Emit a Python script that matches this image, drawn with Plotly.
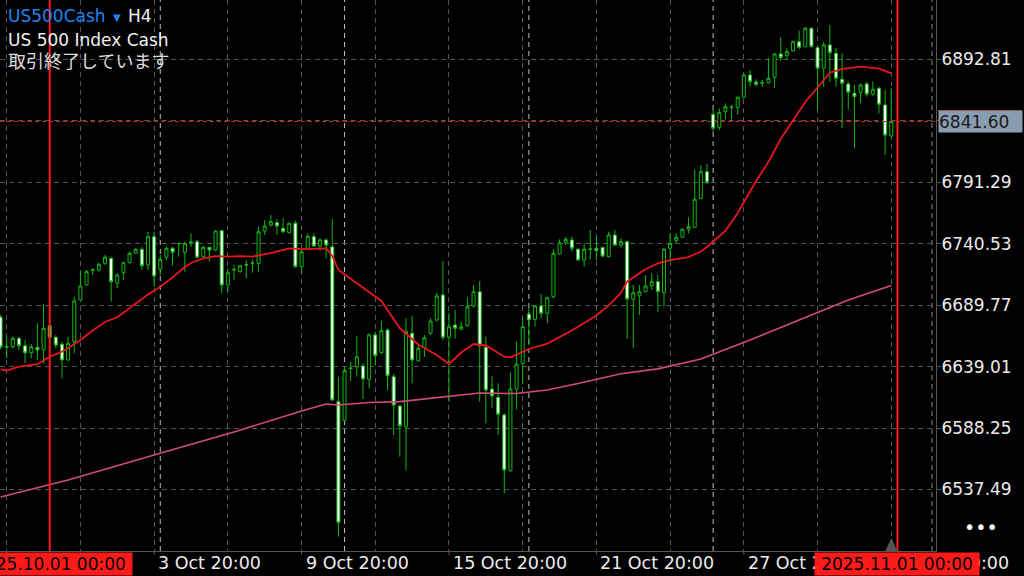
import plotly.graph_objects as go
from datetime import datetime

# ---------------- data ----------------
trading_days = ["2025-09-29", "2025-09-30", "2025-10-01", "2025-10-02", "2025-10-03",
                "2025-10-06", "2025-10-07", "2025-10-08", "2025-10-09", "2025-10-10",
                "2025-10-13", "2025-10-14", "2025-10-15", "2025-10-16", "2025-10-17",
                "2025-10-20", "2025-10-21", "2025-10-22", "2025-10-23", "2025-10-24",
                "2025-10-27", "2025-10-28", "2025-10-29", "2025-10-30", "2025-10-31"]
bar_hours = ["00:00", "04:00", "08:00", "12:00", "16:00", "20:00"]
times = [f"{d} {h}" for d in trading_days for h in bar_hours][4:]   # H4 bars, first = 29 Sep 16:00

opens = [6680.0, 6655.7, 6655.5, 6662.4, 6656.3, 6650.5, 6655.0, 6652.8, 6672.9, 6663.3,
         6657.5, 6644.5, 6659.6, 6694.1, 6706.5, 6718.5, 6718.9, 6724.4, 6728.5, 6707.9,
         6716.6, 6724.9, 6732.7, 6736.0, 6723.0, 6746.4, 6719.5, 6729.4, 6736.8, 6740.8,
         6733.5, 6741.6, 6742.3, 6729.9, 6737.6, 6735.4, 6751.4, 6706.5, 6718.9, 6717.5,
         6722.8, 6724.4, 6724.4, 6751.1, 6756.1, 6758.0, 6753.3, 6749.7, 6757.5, 6721.6,
         6736.8, 6746.4, 6738.7, 6743.7, 6738.1, 6610.1, 6594.4, 6637.9, 6639.0, 6639.6,
         6628.6, 6665.2, 6650.5, 6669.3, 6630.7, 6606.5, 6589.4, 6666.6, 6643.9, 6654.7,
         6666.6, 6677.6, 6698.2, 6663.3, 6673.4, 6669.9, 6672.9, 6689.1, 6700.9, 6655.0,
         6620.5, 6613.7, 6599.1, 6553.0, 6620.5, 6641.8, 6682.5, 6678.1, 6689.1, 6683.1,
         6696.8, 6732.1, 6741.4, 6743.7, 6736.0, 6727.1, 6736.2, 6736.8, 6737.6, 6729.9,
         6747.8, 6739.5, 6742.3, 6694.7, 6697.6, 6700.9, 6705.9, 6709.2, 6700.1, 6736.8,
         6743.1, 6745.9, 6752.5, 6754.2, 6778.1, 6800.1, 6847.5, 6836.8, 6849.7, 6853.2,
         6853.3, 6861.6, 6880.0, 6874.2, 6873.6, 6873.6, 6878.1, 6897.4, 6896.0, 6900.1,
         6907.5, 6903.4, 6918.6, 6902.6, 6885.6, 6904.8, 6897.9, 6876.5, 6872.6, 6864.9,
         6865.4, 6872.6, 6864.3, 6869.0, 6855.2, 6829.6]
highs = [6681.7, 6663.8, 6663.8, 6663.8, 6661.0, 6657.7, 6674.8, 6690.8, 6673.4, 6665.2,
         6659.6, 6663.8, 6696.8, 6718.3, 6718.9, 6720.3, 6724.9, 6731.3, 6729.9, 6716.2,
         6725.7, 6734.0, 6736.8, 6738.1, 6750.5, 6750.5, 6731.3, 6738.1, 6738.1, 6741.4,
         6742.3, 6749.2, 6743.7, 6738.7, 6738.1, 6751.9, 6751.9, 6720.3, 6723.0, 6723.0,
         6727.1, 6727.7, 6754.7, 6760.2, 6764.3, 6760.8, 6761.6, 6758.0, 6759.6, 6735.4,
         6749.2, 6749.2, 6745.1, 6745.1, 6761.0, 6630.7, 6639.0, 6643.1, 6664.6, 6641.8,
         6666.6, 6667.9, 6677.0, 6670.7, 6632.9, 6607.3, 6679.0, 6680.9, 6656.9, 6665.2,
         6679.0, 6700.1, 6726.3, 6683.6, 6685.8, 6676.2, 6696.3, 6706.5, 6709.8, 6663.8,
         6631.5, 6625.3, 6600.5, 6634.3, 6659.6, 6679.0, 6688.1, 6689.9, 6699.1, 6696.8,
         6736.0, 6744.2, 6746.4, 6746.4, 6736.8, 6740.4, 6751.9, 6747.0, 6738.1, 6750.5,
         6751.9, 6745.1, 6743.1, 6706.5, 6706.5, 6714.7, 6716.2, 6714.7, 6736.8, 6749.2,
         6749.2, 6753.3, 6762.4, 6801.5, 6805.6, 6806.5, 6852.5, 6852.5, 6856.6, 6855.2,
         6862.1, 6881.4, 6884.1, 6876.5, 6875.9, 6893.8, 6897.9, 6911.2, 6902.1, 6908.4,
         6916.6, 6919.9, 6919.4, 6903.4, 6907.5, 6921.3, 6902.1, 6897.9, 6874.5, 6871.8,
         6873.1, 6874.5, 6874.5, 6870.3, 6867.6, 6869.0]
lows = [6653.6, 6645.9, 6654.2, 6652.8, 6641.8, 6645.9, 6644.5, 6641.8, 6662.4, 6654.2,
        6629.4, 6643.7, 6650.0, 6693.5, 6706.2, 6714.7, 6717.5, 6723.0, 6692.7, 6703.8,
        6710.6, 6724.4, 6732.1, 6718.9, 6718.9, 6705.1, 6714.7, 6727.1, 6722.4, 6729.9,
        6717.5, 6738.1, 6728.5, 6729.4, 6726.3, 6734.8, 6699.6, 6700.9, 6710.6, 6716.6,
        6712.0, 6716.6, 6717.5, 6747.8, 6754.7, 6747.8, 6749.2, 6749.2, 6721.1, 6716.2,
        6735.4, 6737.9, 6734.8, 6728.5, 6610.6, 6498.5, 6593.5, 6627.2, 6630.7, 6612.3,
        6621.1, 6639.8, 6649.5, 6619.7, 6582.5, 6564.6, 6553.1, 6625.3, 6643.1, 6647.2,
        6665.2, 6676.2, 6661.0, 6610.1, 6662.4, 6669.3, 6672.0, 6688.1, 6610.1, 6592.2,
        6604.6, 6582.5, 6534.4, 6552.2, 6603.8, 6624.4, 6656.9, 6672.0, 6679.0, 6674.8,
        6695.5, 6731.5, 6739.5, 6734.0, 6726.6, 6721.6, 6727.7, 6727.1, 6729.4, 6729.4,
        6738.7, 6737.6, 6661.9, 6654.2, 6681.7, 6700.4, 6702.3, 6684.4, 6688.6, 6727.1,
        6741.4, 6745.9, 6749.2, 6753.6, 6777.5, 6789.9, 6833.2, 6834.6, 6843.4, 6843.4,
        6847.0, 6860.8, 6870.3, 6870.3, 6870.3, 6873.1, 6869.0, 6891.8, 6892.4, 6899.6,
        6901.2, 6902.9, 6902.9, 6851.1, 6870.3, 6874.5, 6870.3, 6836.0, 6851.7, 6819.4,
        6857.1, 6862.1, 6862.7, 6848.4, 6813.9, 6829.0]
closes = [6655.3, 6655.2, 6662.4, 6656.3, 6650.5, 6655.5, 6652.8, 6670.7, 6663.3, 6656.9,
          6644.5, 6658.3, 6693.3, 6705.7, 6717.5, 6719.0, 6723.6, 6729.4, 6709.2, 6714.7,
          6724.9, 6732.7, 6736.0, 6722.4, 6746.4, 6713.9, 6727.7, 6736.8, 6733.5, 6740.5,
          6740.9, 6742.0, 6729.4, 6737.6, 6735.4, 6751.1, 6706.5, 6716.6, 6719.3, 6722.4,
          6723.2, 6724.6, 6750.5, 6755.2, 6758.8, 6755.2, 6750.5, 6757.5, 6721.6, 6734.0,
          6746.7, 6738.7, 6743.7, 6739.5, 6611.5, 6510.1, 6635.7, 6637.6, 6647.2, 6628.8,
          6665.2, 6648.1, 6668.7, 6631.5, 6607.3, 6590.2, 6667.9, 6644.5, 6654.2, 6662.9,
          6676.7, 6697.4, 6663.3, 6672.0, 6670.7, 6672.0, 6688.6, 6700.9, 6656.1, 6619.7,
          6614.8, 6599.6, 6553.6, 6620.5, 6641.0, 6672.0, 6677.6, 6689.1, 6683.1, 6696.0,
          6732.7, 6741.4, 6744.2, 6736.8, 6727.1, 6736.0, 6736.0, 6734.8, 6730.4, 6747.8,
          6739.5, 6742.3, 6694.9, 6700.1, 6700.9, 6705.7, 6709.2, 6700.9, 6736.0, 6740.9,
          6745.9, 6752.5, 6754.7, 6777.3, 6800.1, 6791.3, 6836.0, 6848.9, 6853.8, 6853.6,
          6861.6, 6880.0, 6874.5, 6872.3, 6873.3, 6877.3, 6897.4, 6894.3, 6899.3, 6907.5,
          6902.9, 6918.6, 6903.4, 6885.6, 6904.8, 6898.4, 6877.3, 6873.1, 6865.7, 6862.1,
          6871.8, 6864.3, 6868.2, 6855.8, 6830.4, 6841.6]

# moving averages (bar index into `times`, price)
ma_fast_bar = [0, 1, 3, 6, 8, 10, 11, 13, 15, 17, 19, 22, 24, 26, 28, 30, 31, 33, 35, 37,
               39, 41, 42, 44, 47, 48, 49, 53, 54, 55, 57, 59, 62, 65, 68, 71, 73, 75, 77, 79,
               82, 83, 86, 89, 91, 93, 97, 99, 101, 102, 105, 107, 109, 112, 114, 115, 118,
               120, 123, 125, 127, 129, 131, 133, 135, 137, 140, 143, 145]
ma_fast = [6636.8, 6635.7, 6639.0, 6641.0, 6647.2, 6651.4, 6654.2, 6661.0, 6668.9, 6675.9,
           6679.8, 6691.2, 6698.6, 6705.1, 6712.8, 6721.4, 6724.7, 6728.5, 6730.4, 6729.9,
           6730.4, 6730.0, 6731.0, 6732.9, 6736.8, 6736.5, 6736.2, 6736.8, 6730.4, 6718.9,
           6711.4, 6703.8, 6693.3, 6670.7, 6657.3, 6648.6, 6641.2, 6650.7, 6657.7, 6656.5,
           6647.2, 6646.7, 6653.6, 6658.1, 6663.3, 6668.9, 6681.3, 6689.6, 6700.0, 6709.4,
           6719.5, 6724.3, 6727.1, 6729.6, 6734.2, 6737.9, 6751.1, 6766.0, 6792.4, 6808.1,
           6827.1, 6842.4, 6857.7, 6869.7, 6881.9, 6885.0, 6886.9, 6885.2, 6881.3]
ma_slow_bar = [0, 11, 25, 38, 49, 53, 55, 60, 65, 70, 78, 84, 89, 94, 101, 107, 114, 122,
               131, 138, 145]
ma_slow = [6531.3, 6545.4, 6566.0, 6585.0, 6602.4, 6608.2, 6607.3, 6609.4, 6610.1, 6612.7,
           6617.2, 6616.8, 6619.7, 6625.1, 6633.1, 6637.2, 6645.3, 6661.0, 6680.0, 6694.1,
           6706.1]

price_ticks = [6537.49, 6588.25, 6639.01, 6689.77, 6740.53, 6791.29, 6842.05, 6892.81]
bid_price = 6841.60
week_starts = ["2025-10-06 00:00", "2025-10-13 00:00", "2025-10-20 00:00", "2025-10-27 00:00"]
month_marks = ["2025.10.01 00:00", "2025.11.01 00:00"]

# ---------------- style ----------------
GREEN = "#10b810"
GRID = "#565656"
FONT = "DejaVu Sans"
x_range = [-0.09, 152.28]
y_range = [6486.68, 6941.98]

fig = go.Figure()
fig.add_trace(go.Candlestick(
    x=times, open=opens, high=highs, low=lows, close=closes,
    increasing=dict(line=dict(color=GREEN, width=1), fillcolor="#000000"),
    decreasing=dict(line=dict(color=GREEN, width=1), fillcolor="#ffffff"),
    whiskerwidth=0, hoverinfo="skip", showlegend=False))
fig.add_trace(go.Scatter(x=[times[i] for i in ma_slow_bar], y=ma_slow,
                         mode="lines", showlegend=False, hoverinfo="skip",
                         line=dict(color="#d24a84", width=1.6)))
fig.add_trace(go.Scatter(x=[times[i] for i in ma_fast_bar], y=ma_fast,
                         mode="lines", showlegend=False, hoverinfo="skip",
                         line=dict(color="#e8161c", width=1.8)))

shapes = []
# week separators
for w in week_starts:
    xi = times.index(w)
    shapes.append(dict(type="line", xref="x", yref="paper", x0=xi, x1=xi, y0=0, y1=1,
                       line=dict(color="#bdbdbd", width=1, dash="5px,4px"), layer="below"))
# extra dashed line near right border
shapes.append(dict(type="line", xref="paper", yref="paper", x0=0.9957, x1=0.9957, y0=0, y1=1,
                   line=dict(color="#8a8a8a", width=1, dash="5px,4px"), layer="below"))
# month vertical lines
month_pos = [times.index("2025-10-01 00:00"), len(times)]
for xi in month_pos:
    shapes.append(dict(type="line", xref="x", yref="paper", x0=xi, x1=xi, y0=0, y1=1,
                       line=dict(color="#ff1a1a", width=2)))
# bid line
shapes.append(dict(type="line", xref="paper", yref="y", x0=0, x1=1, y0=bid_price, y1=bid_price,
                   line=dict(color="#e02424", width=1, dash="4px,3px")))
# red mark above price box
shapes.append(dict(type="line", xref="paper", yref="y", ysizemode="pixel", yanchor=bid_price,
                   x0=1.0021, x1=1.0908, y0=10.5, y1=10.5, line=dict(color="#e02424", width=1.5)))
# x tick marks at labelled bars
label_idx = list(range(1, len(times), 24))
for xi in label_idx:
    shapes.append(dict(type="line", xref="x", yref="paper", ysizemode="pixel", yanchor=0,
                       x0=xi, x1=xi, y0=0, y1=-4, line=dict(color=GRID, width=1)))
# chart shift triangle
shapes.append(dict(type="path", xref="x", yref="paper", xsizemode="pixel", ysizemode="pixel",
                   xanchor=len(times) - 1, yanchor=0, path="M -6,0 L 6,0 L 0,13 Z",
                   fillcolor="#555555", line=dict(width=0)))

annotations = []
# header
annotations.append(dict(xref="paper", yref="paper", x=6 / 936, y=1 - 16 / 551, xanchor="left",
                        yanchor="middle", showarrow=False, text="US500Cash",
                        font=dict(family=FONT, size=17, color="#1f84f0")))
annotations.append(dict(xref="paper", yref="paper", x=111 / 936, y=1 - 17 / 551, xanchor="left",
                        yanchor="middle", showarrow=False, text="▼",
                        font=dict(family=FONT, size=10, color="#1f84f0")))
annotations.append(dict(xref="paper", yref="paper", x=126 / 936, y=1 - 16 / 551, xanchor="left",
                        yanchor="middle", showarrow=False, text="H4",
                        font=dict(family=FONT, size=17, color="#f0f0f0")))
annotations.append(dict(xref="paper", yref="paper", x=6 / 936, y=1 - 40 / 551, xanchor="left",
                        yanchor="middle", showarrow=False, text="US 500 Index Cash",
                        font=dict(family=FONT, size=17, color="#f0f0f0")))
annotations.append(dict(xref="paper", yref="paper", x=6 / 936, y=1 - 60 / 551, xanchor="left",
                        yanchor="middle", showarrow=False, text="取引終了しています",
                        font=dict(family="Noto Sans CJK JP", size=18, color="#dcdcdc")))
# time labels
for xi in label_idx:
    dt = datetime.strptime(times[xi], "%Y-%m-%d %H:%M")
    annotations.append(dict(xref="x", yref="paper", x=xi, y=0, yshift=-12, xshift=2,
                            xanchor="left", yanchor="middle", showarrow=False,
                            text=f"{dt.day} {dt.strftime('%b')} {dt.strftime('%H:%M')}",
                            font=dict(family=FONT, size=17.5, color="#ececec")))
# month labels in red boxes
for xi, txt in zip(month_pos, month_marks):
    annotations.append(dict(xref="x", yref="paper", x=xi, y=0, yshift=-13, xanchor="center",
                            yanchor="middle", showarrow=False, text=txt, width=164, height=22,
                            bgcolor="#ff1a1a", borderpad=0,
                            font=dict(family=FONT, size=17, color="#000000")))
# bid price box
annotations.append(dict(xref="paper", yref="y", x=1, xshift=2, y=bid_price, xanchor="left",
                        yanchor="middle", showarrow=False, text=f"{bid_price:.2f}",
                        width=83, height=21, bgcolor="#8a9cb0", borderpad=0, align="left",
                        font=dict(family=FONT, size=17, color="#1a1a1a")))
# menu dots
annotations.append(dict(xref="paper", yref="paper", x=981 / 936, y=1 - 527 / 551,
                        xanchor="center", yanchor="middle", showarrow=False, text="•••",
                        font=dict(family=FONT, size=19, color="#ffffff")))

fig.update_layout(
    width=1024, height=576,
    margin=dict(l=0, r=88, t=0, b=25),
    paper_bgcolor="#000000", plot_bgcolor="#000000",
    showlegend=False, hovermode=False,
    shapes=shapes, annotations=annotations,
    xaxis=dict(type="category", categoryorder="array", categoryarray=times,
               range=x_range, rangeslider=dict(visible=False),
               tickvals=times[1::12], showticklabels=False, ticks="",
               showgrid=True, gridcolor=GRID, griddash="5px,4px", gridwidth=1,
               showline=True, linecolor=GRID, linewidth=1, mirror=True, zeroline=False,
               fixedrange=True),
    yaxis=dict(side="right", range=y_range, tickvals=price_ticks,
               ticktext=["" if abs(p - bid_price) < 1 else f"{p:.2f}" for p in price_ticks],
               ticks="outside", ticklen=4, tickcolor=GRID, ticklabelstandoff=-3,
               tickfont=dict(family=FONT, size=17, color="#ececec"),
               showgrid=True, gridcolor=GRID, griddash="5px,4px", gridwidth=1,
               showline=True, linecolor=GRID, linewidth=1, mirror=True, zeroline=False,
               fixedrange=True),
)

fig.write_html("out.html", config={"displayModeBar": False},
               post_script="document.body.style.margin='0';document.body.style.overflow='hidden';")
